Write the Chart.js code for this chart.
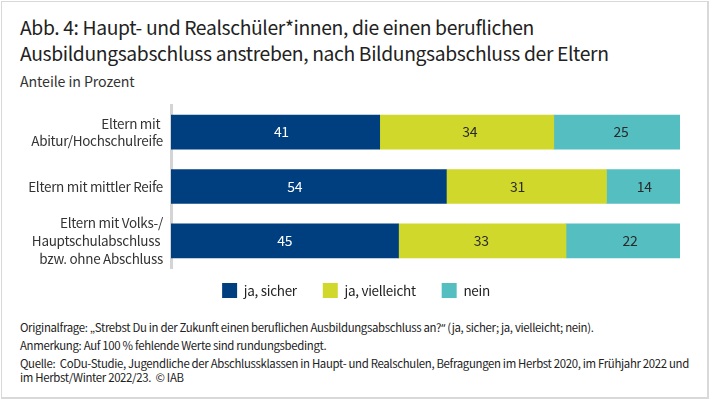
<!DOCTYPE html>
<html lang="de"><head><meta charset="utf-8">
<script src="https://cdn.jsdelivr.net/npm/chart.js@4"></script>
<style>
html,body{margin:0;padding:0;background:#fff;width:710px;height:402px;overflow:hidden}
body{font-family:"Noto Sans CJK SC",sans-serif;color:#222;position:relative}
#frame{position:absolute;left:1px;top:1px;width:705px;height:395px;border:1px solid #d9d9d9;border-bottom-width:2px;border-right-width:2px;box-sizing:content-box}
.t{position:absolute;left:20px;white-space:nowrap}
.f{font-size:11.4px;line-height:16px;letter-spacing:-0.33px}
#canvasWrap{position:absolute;left:0;top:100px;width:710px;height:219px}
.q{font-family:"Noto Sans",sans-serif}
</style></head><body>
<div id="frame"></div>
<div class="t" style="top:15px;font-size:19.3px;line-height:25.5px;letter-spacing:-0.36px">Abb. 4: Haupt- und Realschüler*innen, die einen beruflichen<br>Ausbildungsabschluss anstreben, nach Bildungsabschluss der Eltern</div>
<div class="t" style="top:71px;font-size:14.2px;line-height:20px;color:#333;letter-spacing:-0.1px">Anteile in Prozent</div>
<div id="canvasWrap"><canvas id="c" width="710" height="219"></canvas></div>
<div class="t f" style="top:319px">Originalfrage: „Strebst Du in der Zukunft einen beruflichen Ausbildungsabschluss an?<span class="q">“</span> (ja, sicher; ja, vielleicht; nein).</div>
<div class="t f" style="top:337px">Anmerkung: Auf 100 % fehlende Werte sind rundungsbedingt.</div>
<div class="t f" style="top:355px">Quelle:&nbsp; CoDu-Studie, Jugendliche der Abschlussklassen in Haupt- und Realschulen, Befragungen im Herbst 2020, im Frühjahr 2022 und</div>
<div class="t f" style="top:369px">im Herbst/Winter 2022/23.&nbsp; © IAB</div>
<script>
const categories = [["Eltern mit ","Abitur/Hochschulreife"],"Eltern mit mittler Reife",["Eltern mit Volks-/","Hauptschulabschluss ","bzw. ohne Abschluss"]];
const jaSicher = [41.0, 54.1, 44.7];
const jaVielleicht = [34.2, 31.45, 32.9];
const nein = [24.8, 14.45, 22.4];
const seriesNames = ["ja, sicher","ja, vielleicht","nein"];
const colors = ["#003f7f","#d0d82b","#55bec1"];
const labelColors = ["#ffffff","#2a2a2a","#2a2a2a"];
const font = '"Noto Sans CJK SC", sans-serif';
const barLabels = {
  id:'barLabels',
  afterDatasetsDraw(chart){
    const {ctx}=chart;
    chart.data.datasets.forEach((ds,i)=>{
      chart.getDatasetMeta(i).data.forEach((bar,j)=>{
        ctx.save();
        ctx.font='14px '+font;ctx.fillStyle=labelColors[i];
        ctx.textAlign='center';ctx.textBaseline='middle';
        const sh = j===0?[6,3,4][i]:j===1?[-14,-9,1][i]:[0,-1,7][i];
        ctx.fillText(String(Math.round(ds.data[j])),(bar.x+bar.base)/2+sh,bar.y);
        ctx.restore();
      });
    });
  }
};
const tweak = {
  id:'tweak',
  beforeLayout(chart){ chart.ctx.letterSpacing='-0.3px'; },
  beforeDraw(chart){ chart.ctx.letterSpacing='-0.3px'; },
  afterLayout(chart){ chart.legend.top -= 11; chart.legend.left += 16; chart.legend.right += 16; }
};
new Chart(document.getElementById('c'),{
  type:'bar',
  data:{labels:categories,datasets:[jaSicher,jaVielleicht,nein].map((d,i)=>({label:seriesNames[i],data:d,backgroundColor:colors[i],borderWidth:0,barThickness:34}))},
  options:{
    indexAxis:'y',responsive:false,animation:false,
    layout:{padding:{left:0,right:30,top:5,bottom:0}},
    scales:{
      x:{stacked:true,min:0,max:100,display:false},
      y:{stacked:true,grid:{display:false,drawTicks:false},border:{display:true,color:'#d4d4d4',width:3},
         afterFit(s){s.width=171;s.paddingTop=0;s.paddingBottom=0;},
         ticks:{color:'#333',font:{family:font,size:13.5,lineHeight:1.3},padding:8,autoSkip:false,crossAlign:'near'}}
    },
    plugins:{
      legend:{position:'bottom',labels:{boxWidth:15,boxHeight:15,padding:26,color:'#222',font:{family:font,size:13.5}}},
      tooltip:{enabled:false}
    }
  },
  plugins:[barLabels,tweak]
});
</script></body></html>
